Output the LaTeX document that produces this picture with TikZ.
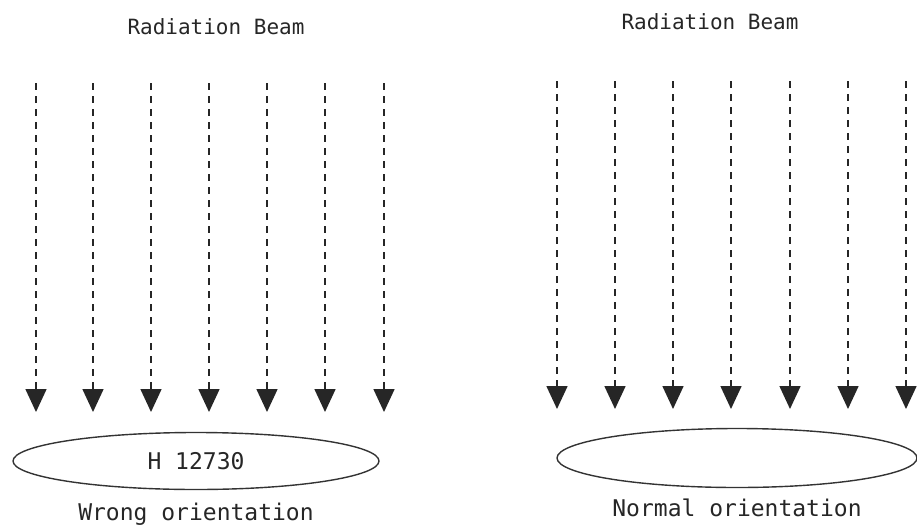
\documentclass[tikz,border=0pt]{standalone}
\usepackage{fontspec}
\setmainfont{DejaVu Sans Mono}
\usetikzlibrary{arrows.meta, positioning, shapes.geometric}

\begin{document}
\begin{tikzpicture}[
    x=1pt, y=-1pt,
    every node/.style={font=\fontsize{23}{27}\selectfont, text=black!85},
    titlenode/.style={font=\fontsize{21}{25}\selectfont},
    ovalnode/.style={
        ellipse,
        draw=black!80,
        line width=1.4pt,
        minimum width=366pt,
        minimum height=57pt,
        inner sep=0pt
    },
    beamarrow/.style={
        -{Triangle[width=21pt,length=23pt]},
        line width=1.6pt,
        dash pattern=on 7pt off 6pt,
        black!85
    }
]
\useasboundingbox (0,0) rectangle (917,527);

% left side
\node[titlenode] (leftbeam) at (216,27) {Radiation Beam};
\foreach \i/\x in {1/36,2/93,3/151,4/209,5/267,6/325,7/384} {
    \coordinate (ls\i) at (\x,83);
    \coordinate (le\i) at (\x,412);
    \draw[beamarrow] (ls\i) -- (le\i);
}
\node[ovalnode] (leftoval) at (196,461) {H 12730};
\node[below=9pt of leftoval] (wrong) {Wrong orientation};

% right side
\node[titlenode] (rightbeam) at (710,22) {Radiation Beam};
\foreach \i/\x in {1/557,2/615,3/673,4/731,5/790,6/848,7/906} {
    \coordinate (rs\i) at (\x,81);
    \coordinate (re\i) at (\x,409);
    \draw[beamarrow] (rs\i) -- (re\i);
}
\node[ovalnode, minimum width=360pt, minimum height=59pt] (rightoval) at (737,458) {};
\node[below=7pt of rightoval] (normal) {Normal orientation};

\end{tikzpicture}
\end{document}
